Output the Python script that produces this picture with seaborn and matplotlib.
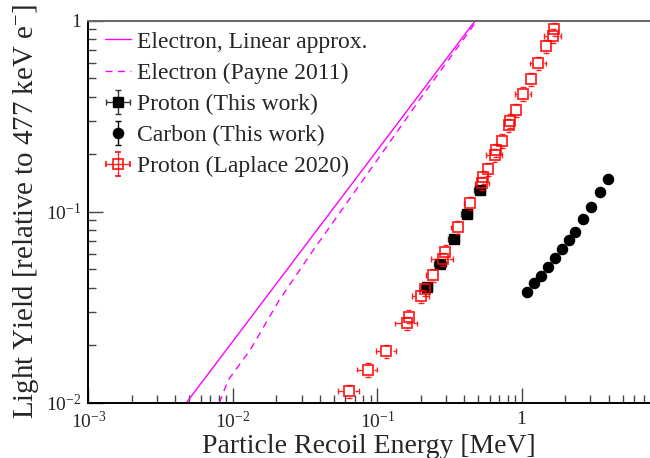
import numpy as np
import pandas as pd
import matplotlib
matplotlib.use('Agg')
import matplotlib.pyplot as plt
import matplotlib.ticker as mticker
import seaborn as sns

# electron curves
elec_lin_e = [0.00477, 0.477]
elec_lin_y = [0.01, 1.0]
payne_e = [0.00807, 0.0093, 0.0132, 0.021, 0.0361, 0.100, 0.21, 0.49]
payne_y = [0.01, 0.01315, 0.0189, 0.0345, 0.063, 0.1866, 0.414, 1.0]

# proton (this work)
proton_e = [0.220, 0.274, 0.338, 0.418, 0.512]
proton_y = [0.0405, 0.0535, 0.0719, 0.0978, 0.130]
proton_xerr_frac = [0.09, 0.09, 0.09, 0.09, 0.09]

# carbon (this work)
carbon_e = [1.086, 1.226, 1.364, 1.525, 1.714, 1.906, 2.121, 2.357, 2.677, 3.041, 3.477, 3.988]
carbon_y = [0.0381, 0.0422, 0.0462, 0.0515, 0.0574, 0.0638, 0.0708, 0.0786, 0.0912, 0.1062, 0.1268, 0.1492]

# proton (Laplace 2020)
laplace_e = [0.0640, 0.0862, 0.1160, 0.1605, 0.1652, 0.2016, 0.2149, 0.2429, 0.2862, 0.2970,
             0.3606, 0.4420, 0.5329, 0.5442, 0.5836, 0.6504, 0.6662, 0.7294, 0.8128, 0.8299,
             0.9161, 1.027, 1.158, 1.307, 1.477, 1.652, 1.687]
laplace_y = [0.01151, 0.01489, 0.01866, 0.02604, 0.02827, 0.0362, 0.03925, 0.04662, 0.05654, 0.06174,
             0.08284, 0.1107, 0.1408, 0.1514, 0.1667, 0.1981, 0.2104, 0.2353, 0.2834, 0.2996,
             0.3406, 0.4144, 0.4934, 0.5984, 0.7373, 0.8344, 0.9048]
laplace_xerr_frac = [0.16, 0.16, 0.16, 0.17, 0.05, 0.14, 0.05, 0.10, 0.17, 0.05,
                     0.10, 0.10, 0.11, 0.05, 0.05, 0.13, 0.05, 0.05, 0.05, 0.05,
                     0.05, 0.13, 0.05, 0.13, 0.05, 0.14, 0.05]
laplace_yerr_frac = 0.08

sns.set_theme(style="ticks")
plt.rcParams['font.family'] = ['Liberation Serif', 'DejaVu Serif']
plt.rcParams['mathtext.fontset'] = 'custom'
plt.rcParams['mathtext.rm'] = 'Liberation Serif'
plt.rcParams['mathtext.it'] = 'Liberation Serif:italic'

fig = plt.figure(figsize=(6.5, 4.58), dpi=100)
ax = fig.add_axes([0.136, 0.1207, 0.864, 0.834])

xmin, xmax = 1e-3, 7.75
ymin, ymax = 1e-2, 1
ax.set_xscale('log')
ax.set_yscale('log')
ax.set_xlim(xmin, xmax)
ax.set_ylim(ymin, ymax)

magenta = '#ff00ff'
red = '#ff0000'
sns.lineplot(x=elec_lin_e, y=elec_lin_y, ax=ax, color=magenta, lw=1.0, sort=False,
             label='Electron, Linear approx.')
sns.lineplot(x=payne_e, y=payne_y, ax=ax, color=magenta, lw=1.0, sort=False,
             linestyle=(0, (5, 4)), label='Electron (Payne 2011)')

pe = np.array(proton_e)
py = np.array(proton_y)
ax.errorbar(pe, py, xerr=pe * np.array(proton_xerr_frac), yerr=py * 0.02,
            fmt='s', color='black', ms=7.2, elinewidth=1.0, capsize=2,
            ecolor='#333333', label='Proton (This work)', zorder=3)

# Laplace: hollow squares, error bars drawn only outside the marker (ROOT style)
le = np.array(laplace_e)
ly = np.array(laplace_y)
lxe = le * np.array(laplace_xerr_frac)
lye = ly * laplace_yerr_frac
ms_l = 7.9
bbox = ax.get_window_extent()
px_dec_x = bbox.width / np.log10(xmax / xmin)
px_dec_y = bbox.height / np.log10(ymax / ymin)
half_px = ms_l * fig.dpi / 72 / 2 + 0.6
cap_px = 2.8
fx = 10 ** (half_px / px_dec_x)
fy = 10 ** (half_px / px_dec_y)
cfx = 10 ** (cap_px / px_dec_x)
cfy = 10 ** (cap_px / px_dec_y)
seg_kw = dict(color=red, lw=1.0, alpha=0.85, zorder=4)
for x, y, dx, dy in zip(le, ly, lxe, lye):
    for end, edge in ((x - dx, x / fx), (x + dx, x * fx)):
        if abs(np.log10(end / x)) > abs(np.log10(edge / x)):
            ax.hlines(y, min(end, edge), max(end, edge), **seg_kw)
            ax.vlines(end, y / cfy, y * cfy, **seg_kw)
    for end, edge in ((y - dy, y / fy), (y + dy, y * fy)):
        if abs(np.log10(end / y)) > abs(np.log10(edge / y)):
            ax.vlines(x, min(end, edge), max(end, edge), **seg_kw)
            ax.hlines(end, x / cfx, x * cfx, **seg_kw)
ax.plot(le, ly, 's', mfc='none', mec=red, ms=ms_l, mew=1.3, alpha=0.85, zorder=4)
ax.errorbar([np.nan], [np.nan], xerr=[1], yerr=[1], fmt='s', mfc='none', mec=red,
            ecolor=red, ms=ms_l, mew=1.3, elinewidth=1.0, capsize=2, alpha=0.85,
            label='Proton (Laplace 2020)')

ce = np.array(carbon_e)
cy = np.array(carbon_y)
ax.errorbar(ce, cy, yerr=cy * 0.02, fmt='o', color='black', ms=7.3,
            elinewidth=1.0, capsize=2, label='Carbon (This work)', zorder=5)

ax.set_xlim(xmin, xmax)
ax.set_ylim(ymin, ymax)


def log_fmt(v, pos):
    if np.isclose(v, 1.0):
        return '1'
    return r'$10^{%d}$' % int(round(np.log10(v)))


for axis in (ax.xaxis, ax.yaxis):
    axis.set_major_locator(mticker.LogLocator(base=10))
    axis.set_minor_locator(mticker.LogLocator(base=10, subs=np.arange(2, 10)))
    axis.set_major_formatter(mticker.FuncFormatter(log_fmt))
    axis.set_minor_formatter(mticker.NullFormatter())

ax.tick_params(which='major', direction='in', length=11, width=1.0, color='#444444',
               labelsize=14, pad=5, top=False, right=False)
ax.tick_params(which='minor', direction='in', length=6, width=1.0, color='#444444',
               top=False, right=False)
ax.tick_params(axis='x', which='major', pad=6)

for s in ('left', 'bottom'):
    ax.spines[s].set_color('black')
    ax.spines[s].set_linewidth(1.4)
ax.spines['top'].set_color('#666666')
ax.spines['top'].set_linewidth(1.4)
ax.spines['right'].set_visible(False)

ax.set_xlabel('Particle Recoil Energy [MeV]', fontsize=20)
ax.set_ylabel(r'Light Yield [relative to 477 keV e$^{-}$]', fontsize=20.8)
ax.xaxis.set_label_coords(0.5, -0.081)
ax.yaxis.set_label_coords(-0.084, 0.5)

handles, labels = ax.get_legend_handles_labels()
order = ['Electron, Linear approx.', 'Electron (Payne 2011)', 'Proton (This work)',
         'Carbon (This work)', 'Proton (Laplace 2020)']
hmap = dict(zip(labels, handles))
ax.legend([hmap[k] for k in order], order, loc='upper left', bbox_to_anchor=(0.03, 0.973),
          frameon=False, fontsize=17, handlelength=1.1, handletextpad=0.26,
          labelspacing=0.41, borderaxespad=0, borderpad=0)

fig.savefig('out.png', dpi=100)
